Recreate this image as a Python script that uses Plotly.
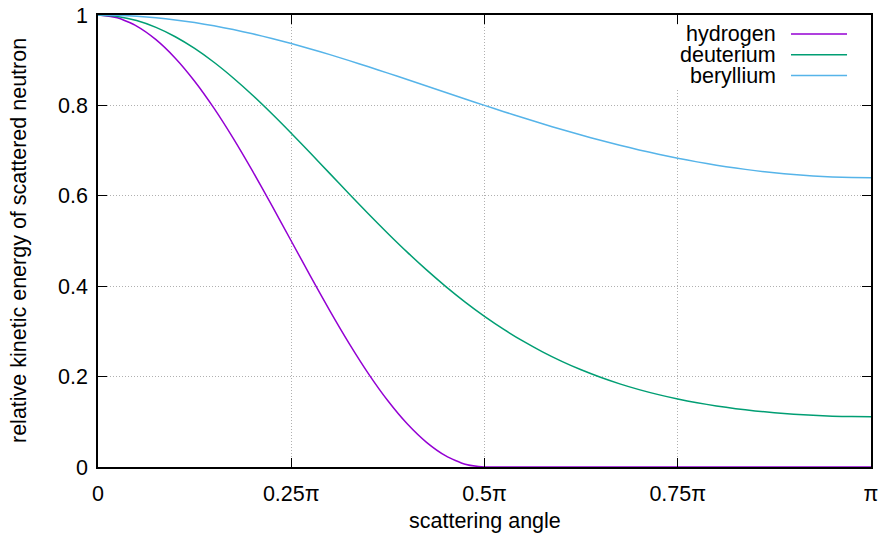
import plotly.graph_objects as go

# scattering angle in units of pi
angle_frac = [0.0, 0.025, 0.05, 0.075, 0.1, 0.125, 0.15, 0.175, 0.2, 0.225,
              0.25, 0.275, 0.3, 0.325, 0.35, 0.375, 0.4, 0.425, 0.45, 0.475,
              0.5, 0.525, 0.55, 0.575, 0.6, 0.625, 0.65, 0.675, 0.7, 0.725,
              0.75, 0.775, 0.8, 0.825, 0.85, 0.875, 0.9, 0.925, 0.95, 0.975, 1.0]

hydrogen = [1.0, 0.99384, 0.97553, 0.94550, 0.90451, 0.85355, 0.79389, 0.72700,
            0.65451, 0.57822, 0.5, 0.42178, 0.34549, 0.27300, 0.20611, 0.14645,
            0.09549, 0.05450, 0.02447, 0.00616, 0.0, 0.0, 0.0, 0.0, 0.0, 0.0,
            0.0, 0.0, 0.0, 0.0, 0.0, 0.0, 0.0, 0.0, 0.0, 0.0, 0.0, 0.0, 0.0, 0.0, 0.0]

deuterium = [1.0, 0.99692, 0.98774, 0.97266, 0.95195, 0.92604, 0.89542, 0.86068,
             0.82247, 0.78147, 0.73842, 0.69404, 0.64902, 0.60406, 0.55978, 0.51672,
             0.47537, 0.43611, 0.39923, 0.36494, 0.33333, 0.30447, 0.27832, 0.25477,
             0.23373, 0.21503, 0.19849, 0.18394, 0.17120, 0.16010, 0.15047, 0.14218,
             0.13510, 0.12910, 0.12409, 0.11999, 0.11672, 0.11424, 0.11249, 0.11146, 0.11111]

beryllium = [1.0, 0.99932, 0.99727, 0.99388, 0.98918, 0.98322, 0.97606, 0.96776,
             0.95840, 0.94808, 0.93689, 0.92492, 0.91228, 0.89909, 0.88544, 0.87145,
             0.85722, 0.84287, 0.82848, 0.81416, 0.8, 0.78609, 0.77250, 0.75932,
             0.74660, 0.73441, 0.72281, 0.71183, 0.70154, 0.69195, 0.68311, 0.67505,
             0.66778, 0.66132, 0.65570, 0.65092, 0.64700, 0.64394, 0.64175, 0.64044, 0.64]

series_names = ["hydrogen", "deuterium", "beryllium"]
series_colors = ["#9400d3", "#009e73", "#56b4e9"]
series_values = [hydrogen, deuterium, beryllium]

x_tickvals = [0, 0.25, 0.5, 0.75, 1.0]
x_ticktext = ["0", "0.25π", "0.5π", "0.75π", "π"]
y_tickvals = [0, 0.2, 0.4, 0.6, 0.8, 1.0]
y_ticktext = ["0", "0.2", "0.4", "0.6", "0.8", "1"]

x_title = "scattering angle"
y_title = "relative kinetic energy of scattered neutron"

FONT = "Liberation Sans, Arial, Helvetica, sans-serif"
FS = 21.5

fig = go.Figure()
for name, color, vals in zip(series_names, series_colors, series_values):
    fig.add_trace(go.Scatter(
        x=angle_frac, y=vals, mode="lines", name=name,
        line=dict(color=color, width=1.5, shape="spline", smoothing=0.6),
        showlegend=False,
    ))

axis_common = dict(
    showline=True, linecolor="black", linewidth=1.5, mirror="ticks",
    ticks="inside", ticklen=9, tickwidth=1, tickcolor="black",
    showgrid=True, gridcolor="#b0b0b0", griddash="1px,2px", gridwidth=1,
    zeroline=False, automargin=False, ticklabeloverflow="allow",
    tickfont=dict(family=FONT, size=FS, color="black"),
)

fig.update_xaxes(range=[0, 1], tickvals=x_tickvals, ticktext=x_ticktext,
                 ticklabelstandoff=6, **axis_common)
fig.update_yaxes(range=[0, 1], tickvals=y_tickvals, ticktext=y_ticktext,
                 ticklabelstandoff=4, **axis_common)

# axis titles
fig.add_annotation(x=0.5, y=0, xref="paper", yref="paper", yshift=-54,
                   text=x_title, showarrow=False, xanchor="center", yanchor="middle",
                   font=dict(family=FONT, size=FS, color="black"))
fig.add_annotation(x=0, y=0.5, xref="paper", yref="paper", xshift=-79,
                   text=y_title, textangle=-90, showarrow=False,
                   xanchor="center", yanchor="middle",
                   font=dict(family=FONT, size=FS, color="black"))

# white box behind the key (gnuplot key clears the grid)
fig.add_shape(type="rect", xref="x", yref="y", x0=0.744, x1=0.99, y0=0.838, y1=0.979,
              fillcolor="white", line=dict(width=0), layer="above")

# key: right-aligned text followed by sample line
key_rows_y = [0.958, 0.912, 0.866]
for name, color, ky in zip(series_names, series_colors, key_rows_y):
    fig.add_annotation(x=0.8797, y=ky, xref="paper", yref="paper", text=name,
                       showarrow=False, xanchor="right", yanchor="middle",
                       font=dict(family=FONT, size=FS, color="black"))
    fig.add_shape(type="line", xref="paper", yref="paper", x0=0.8965, x1=0.969,
                  y0=ky, y1=ky, line=dict(color=color, width=1.5), layer="above")

fig.update_layout(
    width=881, height=533,
    margin=dict(l=98, r=10, t=15, b=66),
    plot_bgcolor="white", paper_bgcolor="white",
    font=dict(family=FONT, size=FS, color="black"),
)

# remove the default 8px page margin so the figure fills the window exactly
fig.write_html("out.html",
               config={"displayModeBar": False},
               post_script="document.body.style.margin='0';document.body.style.overflow='hidden';")
